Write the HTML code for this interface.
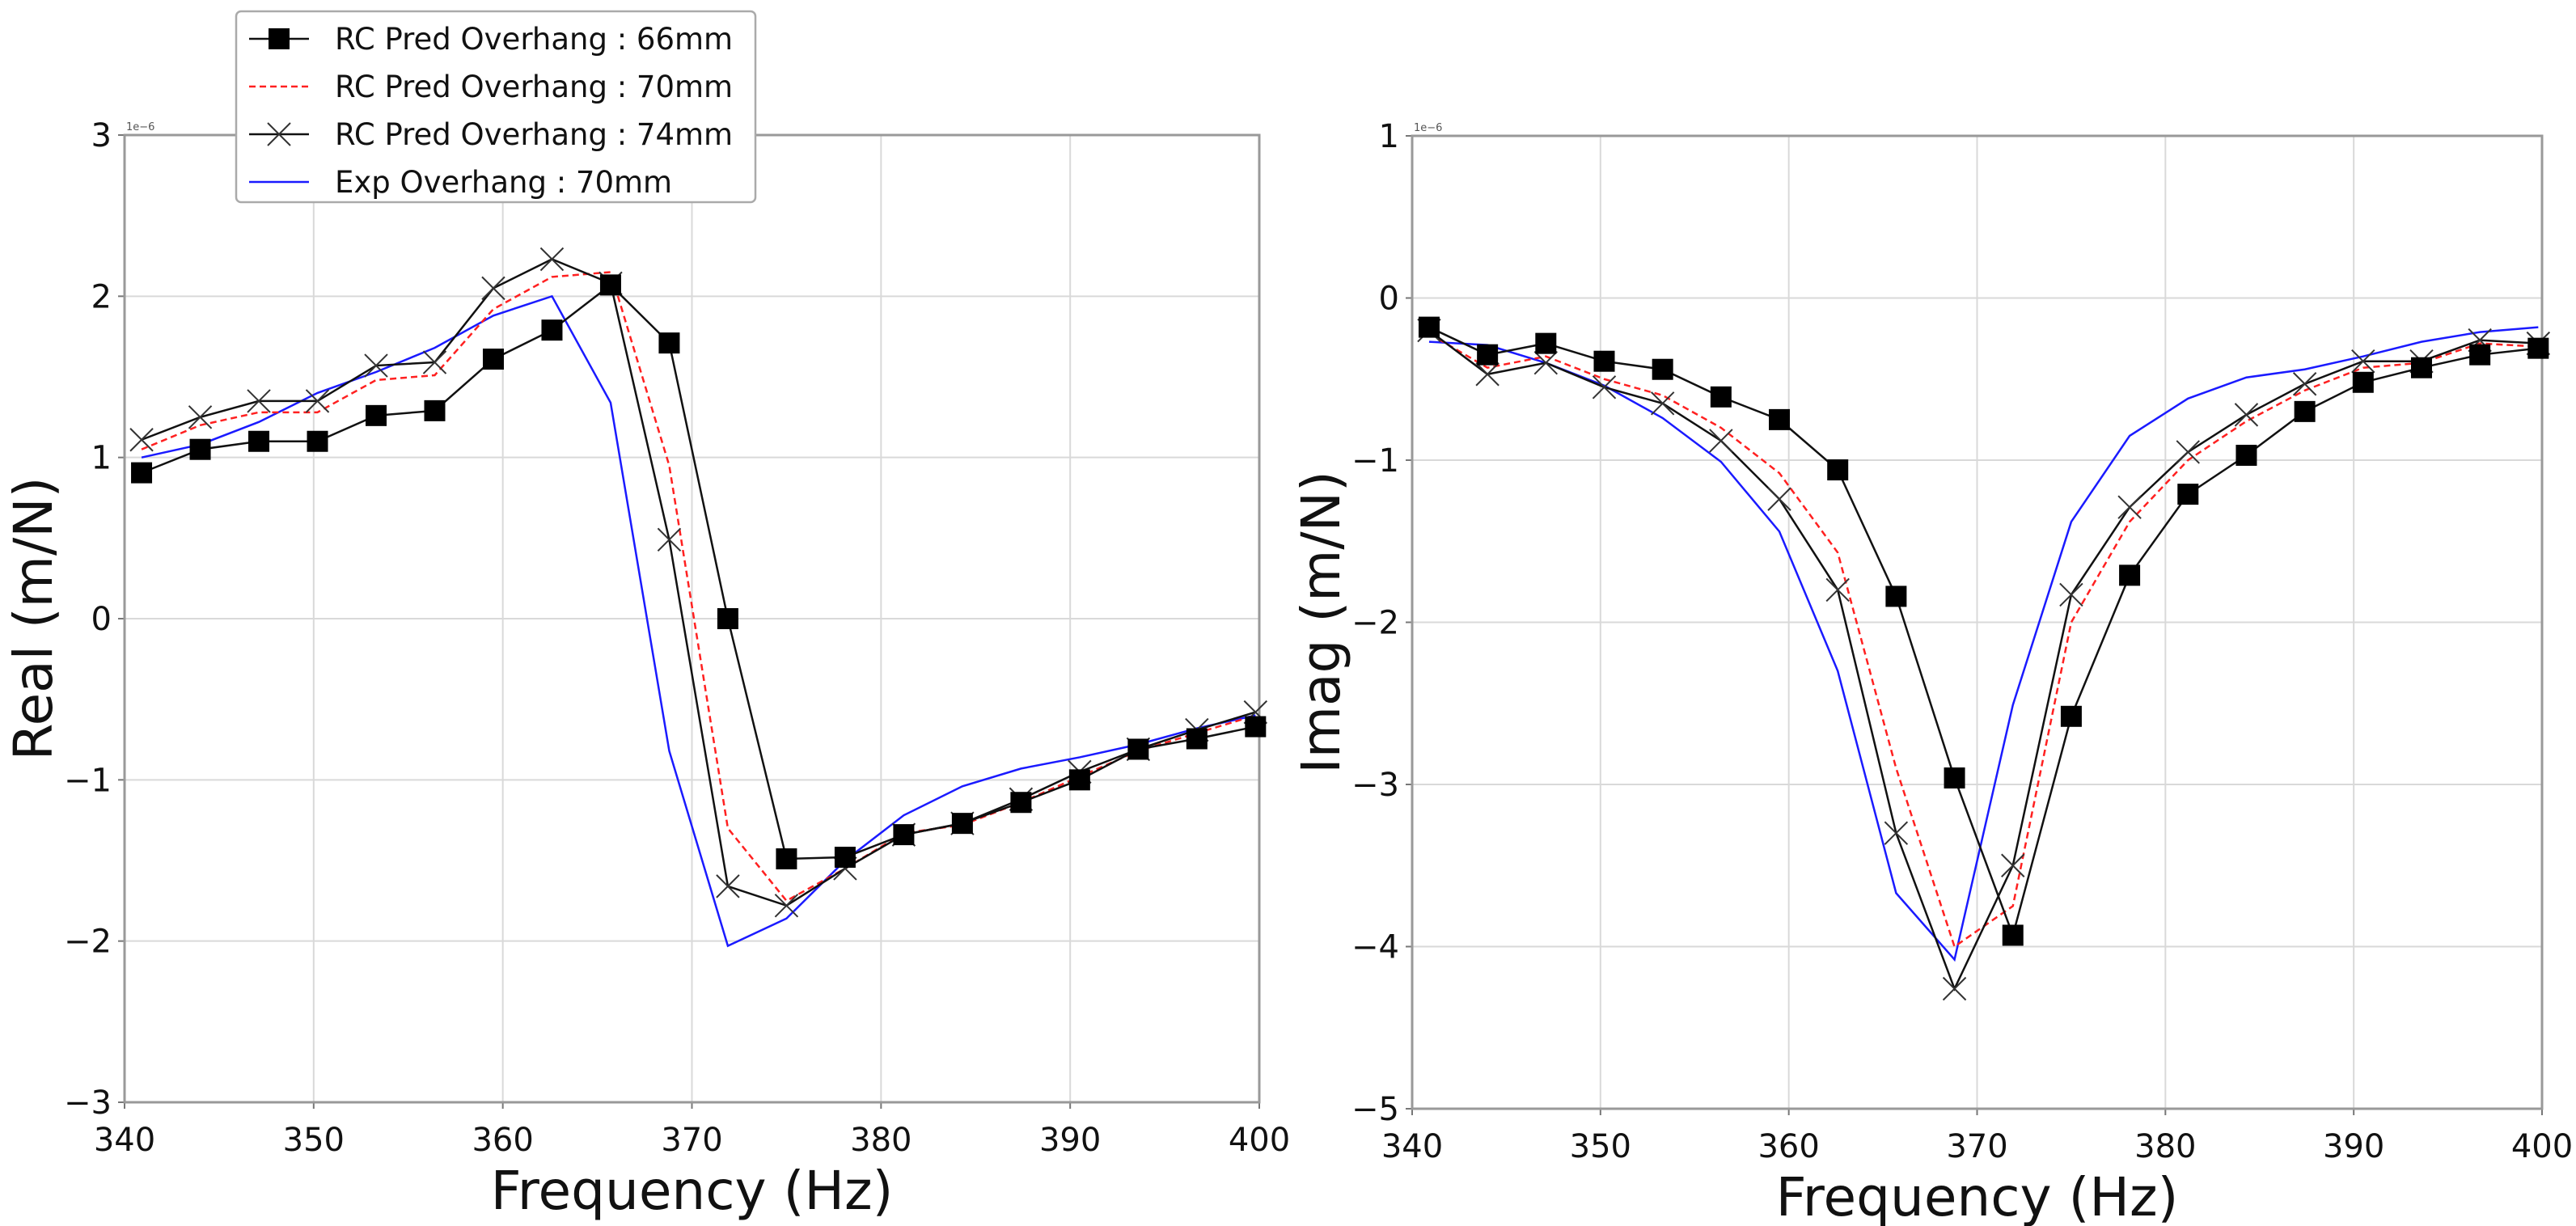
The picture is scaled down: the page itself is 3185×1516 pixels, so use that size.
<!DOCTYPE html>
<html><head><meta charset="utf-8"><style>
body{margin:0;background:#fff;}
svg{display:block;font-family:"DejaVu Sans","Liberation Sans",sans-serif;}
</style></head><body>
<svg id="c" width="3185" height="1516"></svg>
<script>
const freqs=[340.9,344,347.1,350.2,353.3,356.4,359.5,362.6,365.7,368.8,371.9,375,378.1,381.2,384.3,387.4,390.5,393.6,396.7,399.8];
const real66=[0.905,1.05,1.10,1.10,1.26,1.29,1.61,1.79,2.07,1.71,0.0,-1.49,-1.48,-1.34,-1.27,-1.14,-1.0,-0.81,-0.745,-0.67];
const real70=[1.05,1.2,1.28,1.28,1.48,1.51,1.92,2.12,2.15,0.95,-1.3,-1.75,-1.55,-1.33,-1.28,-1.14,-0.98,-0.82,-0.71,-0.60];
const real74=[1.11,1.25,1.35,1.35,1.57,1.59,2.05,2.23,2.08,0.49,-1.66,-1.78,-1.55,-1.34,-1.27,-1.12,-0.95,-0.81,-0.69,-0.58];
const realExp=[1.0,1.08,1.22,1.4,1.53,1.68,1.88,2.0,1.34,-0.82,-2.03,-1.86,-1.5,-1.22,-1.04,-0.93,-0.86,-0.78,-0.68,-0.60];
const imag66=[-0.18,-0.35,-0.28,-0.39,-0.44,-0.61,-0.75,-1.06,-1.84,-2.96,-3.93,-2.58,-1.71,-1.21,-0.97,-0.70,-0.52,-0.43,-0.35,-0.31];
const imag70=[-0.22,-0.43,-0.36,-0.5,-0.6,-0.8,-1.08,-1.57,-2.9,-4.0,-3.75,-2.0,-1.38,-1.0,-0.76,-0.57,-0.43,-0.4,-0.28,-0.3];
const imag74=[-0.2,-0.47,-0.4,-0.55,-0.65,-0.88,-1.24,-1.8,-3.3,-4.26,-3.5,-1.83,-1.29,-0.95,-0.72,-0.53,-0.39,-0.39,-0.26,-0.28];
const imagExp=[-0.27,-0.29,-0.4,-0.54,-0.74,-1.01,-1.44,-2.3,-3.67,-4.08,-2.51,-1.38,-0.85,-0.62,-0.49,-0.44,-0.36,-0.27,-0.21,-0.18];
const xTicks=[340,350,360,370,380,390,400];
const realTicks=[-3,-2,-1,0,1,2,3];
const imagTicks=[-5,-4,-3,-2,-1,0,1];
const legendLabels=["RC Pred Overhang : 66mm","RC Pred Overhang : 70mm","RC Pred Overhang : 74mm","Exp Overhang : 70mm"];

const NS="http://www.w3.org/2000/svg";
const svg=document.getElementById('c');
function mk(tag,attrs,parent,name,inter){const e=document.createElementNS(NS,tag);for(const k in attrs)e.setAttribute(k,attrs[k]);


(parent||svg).appendChild(e);return e;}

function panel(id,L,R,T,B,ymin,ymax,yTicks,ylabel,s66,s70,s74,sExp){
  const g=mk('g',{},svg,id+'-panel',false);
  const sx=v=>L+(v-340)/(400-340)*(R-L);
  const sy=v=>B-(v-ymin)/(ymax-ymin)*(B-T);
  xTicks.forEach(t=>{
    mk('line',{x1:sx(t),x2:sx(t),y1:T,y2:B,stroke:'#d9d9d9','stroke-width':2},g,id+'-x-grid-'+t,false);
    mk('line',{x1:sx(t),x2:sx(t),y1:B,y2:B+8,stroke:'#777','stroke-width':2},g,id+'-x-tick-'+t,false);
    const tx=mk('text',{x:sx(t),y:B+60,'font-size':40,'text-anchor':'middle',fill:'#111'},g,id+'-x-tick-label-'+t,false);tx.textContent=t;
  });
  yTicks.forEach(t=>{
    mk('line',{x1:L,x2:R,y1:sy(t),y2:sy(t),stroke:'#d9d9d9','stroke-width':2},g,id+'-y-grid-'+t,false);
    mk('line',{x1:L-8,x2:L,y1:sy(t),y2:sy(t),stroke:'#777','stroke-width':2},g,id+'-y-tick-'+t,false);
    const tx=mk('text',{x:L-16,y:sy(t)+14,'font-size':40,'text-anchor':'end',fill:'#111'},g,id+'-y-tick-label-'+t,false);tx.textContent=(t<0?'\u2212'+(-t):t);
  });
  mk('rect',{x:L,y:T,width:R-L,height:B-T,fill:'none',stroke:'#999','stroke-width':3},g,id+'-plot-frame',false);
  const off=mk('text',{x:L+2,y:T-6,'font-size':13,fill:'#555'},g,id+'-offset-label',false);off.textContent='1e\u22126';
  const xl=mk('text',{x:(L+R)/2,y:B+132,'font-size':66,'text-anchor':'middle',fill:'#111'},g,id+'-x-axis-title',false);xl.textContent='Frequency (Hz)';
  const yl=mk('text',{x:0,y:0,'font-size':66,'text-anchor':'middle',fill:'#111',transform:`translate(${L-90},${(T+B)/2}) rotate(-90)`},g,id+'-y-axis-title',false);yl.textContent=ylabel;
  const pts=a=>a.map((v,i)=>sx(freqs[i])+','+sy(v)).join(' ');
  mk('polyline',{points:pts(sExp),fill:'none',stroke:'#1a1aff','stroke-width':2.5},g,id+'-exp-70mm-line',false);
  mk('polyline',{points:pts(s70),fill:'none',stroke:'#ff2020','stroke-width':2.5,'stroke-dasharray':'8,5'},g,id+'-pred-70mm-line',false);
  mk('polyline',{points:pts(s74),fill:'none',stroke:'#111','stroke-width':2.5},g,id+'-pred-74mm-line',false);
  s74.forEach((v,i)=>{const x=sx(freqs[i]),y=sy(v),d=14;
    mk('path',{d:`M${x-d},${y-d}L${x+d},${y+d}M${x-d},${y+d}L${x+d},${y-d}`,stroke:'#333','stroke-width':2,fill:'none'},g,id+'-pred-74mm-marker-'+i,false);});
  mk('polyline',{points:pts(s66),fill:'none',stroke:'#111','stroke-width':2.5},g,id+'-pred-66mm-line',false);
  s66.forEach((v,i)=>{const x=sx(freqs[i]),y=sy(v);
    mk('rect',{x:x-13,y:y-13,width:26,height:26,fill:'#000'},g,id+'-pred-66mm-marker-'+i,false);});
}
panel('real',154,1557,167,1363,-3,3,realTicks,'Real (m/N)',real66,real70,real74,realExp);
panel('imag',1746,3143,168,1371,-5,1,imagTicks,'Imag (m/N)',imag66,imag70,imag74,imagExp);

const lg=mk('g',{},svg,'legend',false);
mk('rect',{x:292,y:14,width:642,height:236,rx:6,fill:'#fff',stroke:'#aaa','stroke-width':2.5},lg,'legend-box',false);
legendLabels.forEach((lab,i)=>{
  const y=48+i*59;
  const e=mk('g',{},lg,'legend-entry-'+(i+1),false);
  const style=[{stroke:'#111'},{stroke:'#ff2020','stroke-dasharray':'8,5'},{stroke:'#111'},{stroke:'#1a1aff'}][i];
  mk('line',Object.assign({x1:308,x2:382,y1:y,y2:y,'stroke-width':2.5},style),e,'legend-line-'+(i+1),false);
  if(i===0)mk('rect',{x:332,y:y-13,width:26,height:26,fill:'#000'},e,'legend-square-marker',false);
  if(i===2)mk('path',{d:`M331,${y-14}L359,${y+14}M331,${y+14}L359,${y-14}`,stroke:'#333','stroke-width':2},e,'legend-x-marker',false);
  const t=mk('text',{x:414,y:y+13,'font-size':37,fill:'#111'},e,'legend-label-'+(i+1),false);t.textContent=lab;
});
</script>
</body></html>
